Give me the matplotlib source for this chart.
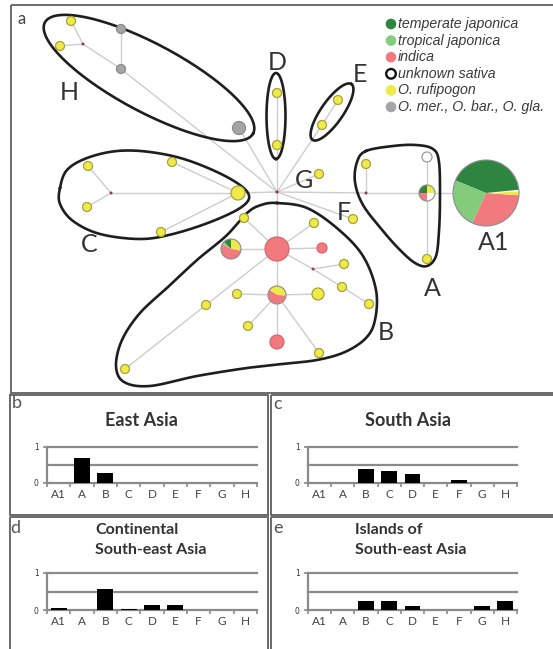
import numpy as np
import matplotlib.pyplot as plt
from matplotlib.patches import Circle, Wedge, Rectangle

# ---- data ----
regions = ['A1', 'A', 'B', 'C', 'D', 'E', 'F', 'G', 'H']
east_asia = [0, 0.70, 0.29, 0, 0, 0, 0, 0, 0]
south_asia = [0, 0, 0.38, 0.32, 0.25, 0, 0.07, 0, 0]
cont_sea = [0.05, 0, 0.56, 0.04, 0.14, 0.14, 0, 0, 0]
island_sea = [0, 0, 0.25, 0.25, 0.12, 0, 0, 0.12, 0.25]

legend_labels = ['temperate japonica', 'tropical japonica', 'indica',
                 'unknown sativa', 'O. rufipogon', 'O. mer., O. bar., O. gla.']

# haplotype network (layout in pixel units of the original figure)
node_names = ['ctr', 'H1', 'H2', 'Hd', 'Hg1', 'Hg2', 'Hg3', 'D1', 'D2', 'E1', 'E2',
              'G1', 'F1', 'Ad', 'Ay1', 'Ap', 'Aw', 'Ay2', 'A1',
              'Cd', 'Cy1', 'Cy2', 'Cbig', 'Cy3', 'Cy4',
              'Br', 'Bpl', 'By1', 'By2', 'Brs', 'Bd', 'By3', 'By4', 'By5', 'Bp',
              'By6', 'By7', 'By8', 'By9', 'Brb', 'By10', 'By11']
node_x = [277, 71, 60, 83, 121, 121, 239, 277, 277, 338, 322,
          319, 353, 366, 366, 427, 427, 427, 486,
          111, 88, 87, 238, 172, 161,
          277, 231, 244, 314, 322, 313, 344, 342, 369, 277,
          237, 318, 206, 248, 277, 319, 125]
node_y = [192, 21, 46, 44, 29, 69, 128, 93, 145, 100, 125,
          174, 219, 193, 164, 193, 157, 259, 193,
          193, 166, 207, 193, 162, 232,
          249, 249, 218, 223, 248, 269, 264, 287, 304, 295,
          294, 294, 305, 326, 342, 353, 369]
node_r = [1.6, 4.5, 4.5, 1.5, 4.5, 4.5, 6.5, 4.5, 4.5, 4.5, 4.5,
          4.5, 4.5, 1.5, 4.5, 8, 5, 4.5, 33,
          1.5, 4.5, 4.5, 7, 4.5, 4.5,
          12, 10, 4.5, 4.5, 5, 1.5, 4.5, 4.5, 4.5, 9,
          4.5, 6, 4.5, 4.5, 7, 4.5, 4.5]
node_kind = ['dot', 'ruf', 'ruf', 'dot', 'oth', 'oth', 'oth', 'ruf', 'ruf', 'ruf', 'ruf',
             'ruf', 'ruf', 'dot', 'ruf', 'pie', 'unk', 'ruf', 'pie',
             'dot', 'ruf', 'ruf', 'ruf', 'ruf', 'ruf',
             'ind', 'pie', 'ruf', 'ruf', 'ind', 'dot', 'ruf', 'ruf', 'ruf', 'pie',
             'ruf', 'ruf', 'ruf', 'ruf', 'ind', 'ruf', 'ruf']
edges = [('ctr', 'Hg2'), ('Hg2', 'Hd'), ('Hd', 'H1'), ('Hd', 'H2'), ('Hg2', 'Hg1'),
         ('ctr', 'Hg3'), ('ctr', 'D2'), ('D2', 'D1'), ('ctr', 'E2'), ('E2', 'E1'),
         ('ctr', 'G1'), ('ctr', 'F1'), ('ctr', 'Ad'), ('Ad', 'Ay1'), ('Ad', 'Ap'),
         ('Ap', 'Aw'), ('Ap', 'Ay2'), ('Ap', 'A1'),
         ('ctr', 'Cbig'), ('Cbig', 'Cd'), ('Cd', 'Cy1'), ('Cd', 'Cy2'), ('Cbig', 'Cy3'),
         ('Cbig', 'Cy4'),
         ('ctr', 'Br'), ('Br', 'By1'), ('Br', 'By2'), ('Br', 'Brs'), ('Br', 'Bpl'),
         ('Br', 'Bd'), ('Bd', 'By3'), ('Bd', 'By4'), ('By4', 'By5'), ('Br', 'By8'),
         ('By8', 'By11'), ('Br', 'Bp'), ('Bp', 'By6'), ('Bp', 'By7'), ('Bp', 'By9'),
         ('Bp', 'By10'), ('Bp', 'Brb')]
# pie compositions: (start angle, fractions, groups)
pies = {
    'A1': (245.5, [0.307, 0.019, 0.008, 0.422, 0.244], ['ind', 'ruf', 'unk', 'tej', 'trj']),
    'Ap': (0, [0.25, 0.25, 0.25, 0.25], ['ruf', 'tej', 'ind', 'unk']),
    'Bpl': (-10, [0.278, 0.125, 0.042, 0.555], ['ruf', 'tej', 'trj', 'ind']),
    'Bp': (-5, [0.42, 0.58], ['ruf', 'ind']),
}

cluster_labels = ['H', 'D', 'E', 'G', 'F', 'C', 'A', 'A1', 'B']
label_x = [69, 277, 360, 304, 344, 89, 432, 494, 386]
label_y = [92, 62, 75, 181, 212, 244, 289, 243, 332]

# ---- styles ----
col = {'tej': '#2e8540', 'trj': '#84cc7c', 'ind': '#f27a7e', 'unk': 'white',
       'ruf': '#eeea48', 'oth': '#a5a5a5'}
edge_col = {'ruf': '#aaa038', 'oth': '#8a8a8a', 'ind': '#d8676d', 'unk': '#9a9a9a'}
txt = '#333333'

W, H = 553, 649
fig = plt.figure(figsize=(W / 100, H / 100), dpi=100)
ax = fig.add_axes([0, 0, 1, 1])
ax.set_xlim(0, W)
ax.set_ylim(H, 0)
ax.axis('off')


def smooth_closed(pts, n=24):
    P = np.array(pts, float)
    m = len(P)
    out = []
    t = np.linspace(0, 1, n, endpoint=False)[:, None]
    for i in range(m):
        p0, p1, p2, p3 = P[i - 1], P[i], P[(i + 1) % m], P[(i + 2) % m]
        out.append(0.5 * (2 * p1 + (-p0 + p2) * t + (2 * p0 - 5 * p1 + 4 * p2 - p3) * t ** 2
                          + (-p0 + 3 * p1 - 3 * p2 + p3) * t ** 3))
    out = np.vstack(out)
    return np.vstack([out, out[:1]])


def ellipse(cx, cy, a, b, ux, uy, n=200):
    u = np.array([ux, uy], float)
    u /= np.hypot(*u)
    nrm = np.array([-u[1], u[0]])
    t = np.linspace(0, 2 * np.pi, n)
    return np.array([cx, cy]) + np.outer(a * np.cos(t), u) + np.outer(b * np.sin(t), nrm)


# frames
ax.add_patch(Rectangle((11, 5), 560, 388, fill=False, edgecolor='#6a6a6a', lw=1.4))
for (x0, y0) in [(10, 395), (271, 395), (10, 517), (271, 517)]:
    w = 258 if x0 == 10 else 300
    ax.add_patch(Rectangle((x0, y0), w, 120 if y0 == 395 else 200, fill=False,
                           edgecolor='#6a6a6a', lw=1.4))

idx = {n: i for i, n in enumerate(node_names)}
for a, b in edges:
    i, j = idx[a], idx[b]
    ax.plot([node_x[i], node_x[j]], [node_y[i], node_y[j]], color='#cdcdcd', lw=1,
            zorder=1)

# cluster outlines
outlines = [
    ellipse(149, 78, 118, 34, 104, 55.5),
    ellipse(276, 116, 43, 9.5, 0, 1),
    ellipse(332, 112, 34, 11, 37, -53),
    smooth_closed([(60, 188), (67, 170), (87, 158), (117, 151), (150, 152), (187, 160),
                   (227, 177), (248, 193), (243, 206), (213, 221), (173, 234), (140, 239),
                   (100, 234), (73, 221), (60, 204)]),
    smooth_closed([(366, 151), (393, 146), (416, 145), (433, 149), (439, 162), (440, 198),
                   (439, 231), (436, 256), (427, 266), (415, 263), (400, 250), (383, 231),
                   (363, 205), (355, 182), (357, 162)]),
    smooth_closed([(277, 203), (307, 208), (338, 229), (363, 256), (376, 290), (375, 320),
                   (366, 338), (345, 352), (317, 360), (282, 364), (247, 368), (197, 376),
                   (150, 386), (124, 382), (116, 366), (122, 340), (140, 313), (168, 287),
                   (197, 260), (226, 236), (247, 213), (261, 205)]),
]
for o in outlines:
    ax.plot(o[:, 0], o[:, 1], color='#1e1e1e', lw=1.9, zorder=2)


def pie_node(x, y, r, start, fracs, groups):
    a = start
    for f, g in zip(fracs, groups):
        b = a + 360 * f
        ax.add_patch(Wedge((x, y), r, -b, -a, facecolor=col[g], edgecolor='none', zorder=4))
        a = b
    ax.add_patch(Circle((x, y), r, fill=False, edgecolor='#8c8c8c', lw=0.8, zorder=5))


for n, x, y, r, k in zip(node_names, node_x, node_y, node_r, node_kind):
    if k == 'pie':
        pie_node(x, y, r, *pies[n])
    elif k == 'dot':
        ax.add_patch(Circle((x, y), r, facecolor='#9b3b4a', edgecolor='none', zorder=4))
    else:
        ax.add_patch(Circle((x, y), r, facecolor=col[k], edgecolor=edge_col[k], lw=0.9,
                            zorder=4))

for s, x, y in zip(cluster_labels, label_x, label_y):
    ax.text(x, y, s, fontsize=18, color=txt, ha='center', va='center', family='Lato')

ax.text(22, 19, 'a', fontsize=12, color='#444444', ha='center', va='center', family='Lato')

# legend
leg_groups = ['tej', 'trj', 'ind', 'unk', 'ruf', 'oth']
for i, (lab, g) in enumerate(zip(legend_labels, leg_groups)):
    y = 24 + i * 16.6
    if g == 'unk':
        ax.add_patch(Circle((391, y), 4.8, facecolor='white', edgecolor='#111111', lw=1.7,
                            zorder=4))
    else:
        ax.add_patch(Circle((391, y), 5.3, facecolor=col[g], edgecolor='none', zorder=4))
    ax.text(398, y, lab, fontsize=10.2, style='italic', color='#3a3a3a', va='center',
            ha='left', family='Liberation Sans')

# ---- bar panels ----
panels = [
    (east_asia, (47, 257, 483, 447), 'b', (17, 403), ['East Asia'], (141, 420), 'center', 13),
    (south_asia, (308, 517, 483, 447), 'c', (278, 404), ['South Asia'], (408, 420), 'center',
     13),
    (cont_sea, (47, 257, 610, 573), 'd', (15, 528), ['Continental', 'South-east Asia'],
     (95, 530), 'left', 11.5),
    (island_sea, (308, 517, 610, 573), 'e', (278, 528), ['Islands of', 'South-east Asia'],
     (355, 530), 'left', 11.5),
]
for vals, (x0, x1, y0, y1), letter, lpos, title, tpos, tha, tfs in panels:
    bx = fig.add_axes([x0 / W, 1 - y0 / H, (x1 - x0) / W, (y0 - y1) / H])
    pos = np.arange(len(regions))
    bx.bar(pos, vals, width=0.68, color='black', zorder=3)
    bx.set_xlim(-0.5, len(regions) - 0.5)
    bx.set_ylim(0, 1)
    bx.patch.set_alpha(0)
    for sp in ['top', 'right']:
        bx.spines[sp].set_visible(False)
    for sp in ['left', 'bottom']:
        bx.spines[sp].set_color('#8a8a8a')
        bx.spines[sp].set_linewidth(1.6)
    for g in [0.5, 1.0]:
        bx.axhline(g, color='#8a8a8a', lw=1.6, clip_on=False, zorder=1)
    bx.set_xticks(pos)
    bx.set_xticklabels(regions, fontsize=8.5, color='#444444', family='Lato')
    bx.tick_params(axis='x', length=0, pad=4)
    bx.set_xticks(np.arange(-0.5, len(regions)), minor=True)
    bx.tick_params(axis='x', which='minor', length=3, width=1.2, color='#8a8a8a',
                   direction='out')
    bx.set_yticks([0, 1])
    bx.set_yticklabels(['0', '1'], fontsize=5.5, color=txt)
    bx.tick_params(axis='y', length=3, width=1.2, color='#8a8a8a', pad=3)

    ax.text(lpos[0], lpos[1], letter, fontsize=13, color='#555555', ha='center',
            va='center', family='Lato')
    for k, line in enumerate(title):
        ax.text(tpos[0], tpos[1] + 20 * k, line, fontsize=tfs, fontweight='bold', color=txt,
                ha=tha, va='center', family='Lato')

fig.savefig('out.png', dpi=100)
